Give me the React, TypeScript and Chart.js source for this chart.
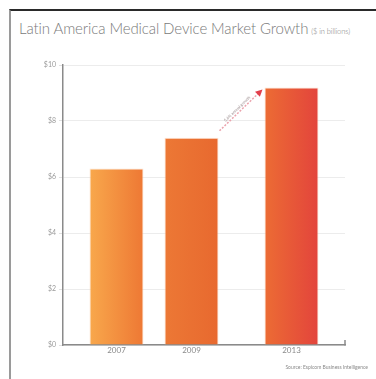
import React, { useEffect, useRef } from "react";
import { Chart, registerables } from "chart.js";

Chart.register(...registerables);

const years = ["2007", "2009", "2013"];
const slots = [0, 3, 7];
const values = [6.3, 7.4, 9.2];
const yTicks = [0, 2, 4, 6, 8, 10];
const growthLabel = "5.6% annual growth";
const titleText = "Latin America Medical Device Market Growth";
const unitText = "($ in billions)";
const sourceText = "Source: Espicom Business Intelligence";

const barGradients = [
  ["#f8a84c", "#ee7834"],
  ["#ec7835", "#e8692f"],
  ["#ec6c34", "#e3443c"],
];

const fontFamily = "Lato, 'Open Sans', sans-serif";

const extrasPlugin = {
  id: "extras",
  beforeDatasetsDraw(chart: any) {
    const meta = chart.getDatasetMeta(0);
    const c = chart.ctx;
    meta.data.forEach((el: any, i: number) => {
      const half = el.width / 2;
      const g = c.createLinearGradient(el.x - half, 0, el.x + half, 0);
      g.addColorStop(0, barGradients[i][0]);
      g.addColorStop(1, barGradients[i][1]);
      el.options = Object.assign({}, el.options, { backgroundColor: g });
    });
  },
  afterDatasetsDraw(chart: any) {
    const c = chart.ctx;
    const meta = chart.getDatasetMeta(0);
    const a = meta.data[1];
    const b = meta.data[2];
    const x1 = a.x + a.width / 2 + 1;
    const y1 = a.y - 7;
    const x2 = b.x - b.width / 2 - 2;
    const y2 = b.y + 2;
    const ang = Math.atan2(y2 - y1, x2 - x1);
    c.save();
    c.strokeStyle = "#eba3ad";
    c.lineWidth = 1.5;
    c.setLineDash([2, 1.5]);
    c.beginPath();
    c.moveTo(x1, y1);
    c.lineTo(x2 - 5 * Math.cos(ang), y2 - 5 * Math.sin(ang));
    c.stroke();
    c.setLineDash([]);
    c.fillStyle = "#e2404c";
    c.translate(x2, y2);
    c.rotate(ang);
    c.beginPath();
    c.moveTo(0, 0);
    c.lineTo(-7, -3.5);
    c.lineTo(-7, 3.5);
    c.closePath();
    c.fill();
    c.restore();

    c.save();
    const len = Math.hypot(x2 - x1, y2 - y1);
    c.translate((x1 + x2) / 2, (y1 + y2) / 2);
    c.rotate(ang);
    c.font = `4px ${fontFamily}`;
    c.fillStyle = "#9a8a8c";
    c.textAlign = "center";
    c.textBaseline = "bottom";
    c.fillText(growthLabel, -2, -1.5, len - 10);
    c.restore();

    const xs = chart.scales.x;
    c.save();
    c.strokeStyle = "#8a8a8a";
    c.lineWidth = 1.5;
    c.beginPath();
    c.moveTo(xs.right, xs.top + 0.5);
    c.lineTo(xs.right, xs.top - 5);
    c.stroke();
    c.restore();
  },
};

export default function App() {
  const ref = useRef<HTMLCanvasElement | null>(null);

  useEffect(() => {
    if (!ref.current) return;
    const chart = new Chart(ref.current, {
      type: "bar",
      data: {
        datasets: [
          {
            data: slots.map((s, i) => ({ x: s, y: values[i] })),
            backgroundColor: (ctx: any) => barGradients[ctx.dataIndex % barGradients.length][1],
            borderColor: "rgba(252, 214, 190, 0.7)",
            borderWidth: 1,
            categoryPercentage: 0.9,
            barPercentage: 0.8,
          },
        ],
      },
      options: {
        animation: false,
        responsive: false,
        maintainAspectRatio: false,
        layout: { padding: { left: 0, right: 31, top: 65, bottom: 0 } },
        plugins: {
          legend: { display: false },
          tooltip: { enabled: false },
          title: { display: false },
        },
        scales: {
          x: {
            type: "linear",
            offset: false,
            min: -2.14,
            max: 9.14,
            afterBuildTicks: (axis: any) => {
              axis.ticks = slots.map((v) => ({ value: v }));
            },
            afterFit: (s: any) => {
              s.height = 34;
            },
            ticks: {
              autoSkip: false,
              maxRotation: 0,
              padding: 1,
              color: "#8a8a8a",
              font: { family: fontFamily, size: 8 },
              callback: (v: any) => {
                const idx = slots.indexOf(Number(v));
                return idx >= 0 ? years[idx] : "";
              },
            },
            grid: { display: false, drawTicks: false },
            border: { display: true, color: "#8a8a8a", width: 1.5 },
          },
          y: {
            min: 0,
            max: 10,
            afterBuildTicks: (axis: any) => {
              axis.ticks = yTicks.map((v) => ({ value: v }));
            },
            afterFit: (s: any) => {
              s.width = 63;
            },
            ticks: {
              padding: 3,
              color: "#9a9a9a",
              font: { family: fontFamily, size: 7 },
              callback: (v: any) => "$" + v,
            },
            grid: {
              color: "#ececec",
              lineWidth: 1,
              tickLength: 4,
              tickColor: "#e0e0e0",
            },
            border: { display: true, color: "#8a8a8a", width: 1.5 },
          },
        },
      },
      plugins: [extrasPlugin],
    } as any);
    return () => chart.destroy();
  }, []);

  return (
    <div
      style={{
        position: "fixed",
        left: 0,
        top: 0,
        width: 376,
        height: 379,
        background: "#fff",
        overflow: "hidden",
        fontFamily,
      }}
    >
      <div
        style={{
          position: "absolute",
          left: 9,
          top: 9,
          width: 367,
          height: 370,
          borderTop: "2px solid #2a2a2a",
          borderLeft: "2px solid #9a9a9a",
          boxSizing: "border-box",
        }}
      />
      <div
        style={{
          position: "absolute",
          left: 19,
          top: 19,
          whiteSpace: "nowrap",
          color: "#7a7a7a",
          fontWeight: 300,
          fontSize: 15,
          lineHeight: "18px",
          letterSpacing: -0.1,
        }}
      >
        {titleText}
        <span style={{ fontSize: 7.5, marginLeft: 3 }}>{unitText}</span>
      </div>
      <canvas
        ref={ref}
        width={376}
        height={379}
        style={{ position: "absolute", left: 0, top: 0, width: 376, height: 379 }}
      />
      <div
        style={{
          position: "absolute",
          right: 8,
          top: 364,
          whiteSpace: "nowrap",
          color: "#8a8a8a",
          fontSize: 5,
          lineHeight: "7px",
        }}
      >
        {sourceText}
      </div>
    </div>
  );
}
